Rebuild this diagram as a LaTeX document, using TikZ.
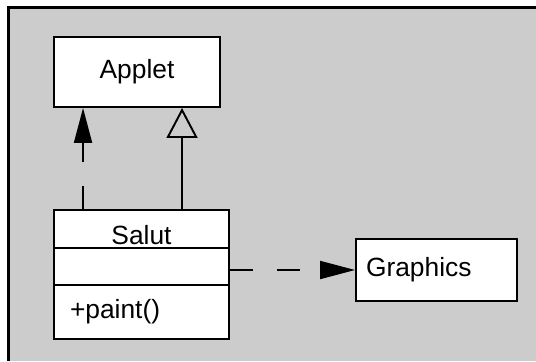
\documentclass[tikz,border=0pt]{standalone}
\usepackage{fontspec}
\setmainfont{Liberation Sans}
\usetikzlibrary{arrows.meta}
\definecolor{panelgray}{gray}{0.8}

\begin{document}
\begin{tikzpicture}[
cls/.style={rectangle, draw, fill=white, line width=1.1pt, inner sep=0pt, font=\fontsize{15}{18}\selectfont},
dep/.style={line width=1.1pt, dash pattern=on 0.47cm off 0.47cm, -{Triangle[length=0.7cm, width=0.36cm]}},
inh/.style={line width=1.1pt, -{Triangle[open, length=0.6cm, width=0.62cm]}}
]
\useasboundingbox (0,0) rectangle (10.72,-7.22);
\fill[panelgray] (0.174,-0.154) rectangle (10.72,-7.22);
\draw[line width=1.4pt] (0.174,-7.22) |- (10.72,-0.154);
\node[cls, minimum width=3.32cm, minimum height=1.40cm] (applet) at (2.74,-1.44) {Applet};
\node[cls, minimum width=3.5cm, minimum height=0.76cm, text height=0.6cm, text depth=0pt] (salut) at (2.83,-4.58) {Salut};
\node[cls, minimum width=3.5cm, minimum height=0.74cm] (salutattr) at (2.83,-5.33) {};
\node[cls, text width=2.86cm, inner xsep=0.32cm, align=left, minimum height=1.08cm, text height=0.24cm, text depth=0pt] (salutops) at (2.83,-6.24) {+paint()};
\node[cls, text width=2.82cm, inner xsep=0.2cm, align=left, minimum height=1.24cm] (graphics) at (8.73,-5.40) {Graphics};
\draw[dep] ([xshift=0.6cm]salut.north west) -- ([xshift=0.6cm]applet.south west);
\draw[inh] ([xshift=2.58cm]salut.north west) -- ([xshift=2.58cm]applet.south west);
\draw[dep] (graphics.west -| salutattr.east) -- (graphics.west);
\end{tikzpicture}
\end{document}
